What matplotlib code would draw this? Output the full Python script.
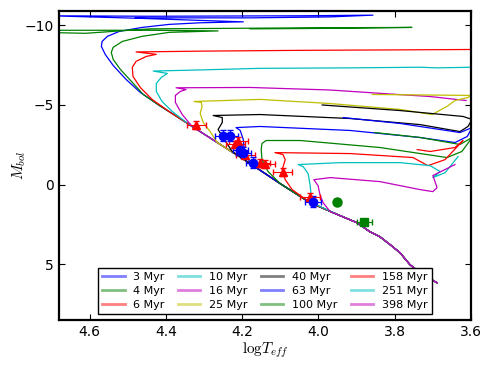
import numpy as np
import matplotlib
matplotlib.use('Agg')
import matplotlib.pyplot as plt

plt.rcParams['mathtext.fontset'] = 'cm'

# shared lower main sequence (logTeff, Mbol)
ms_logt = [3.689, 3.726, 3.760, 3.786, 3.812, 3.839, 3.865, 3.899, 3.943,
           4.022, 4.100, 4.179, 4.265, 4.331]
ms_mbol = [6.16, 5.66, 5.03, 4.28, 3.77, 3.27, 2.96, 2.39, 1.95,
           1.13, -0.06, -1.32, -2.64, -3.65]

ages = ['3 Myr', '4 Myr', '6 Myr', '10 Myr', '16 Myr', '25 Myr', '40 Myr',
        '63 Myr', '100 Myr', '158 Myr', '251 Myr', '398 Myr']
colors = ['b', 'g', 'r', 'c', 'm', 'y', 'k', 'b', 'g', 'r', 'c', 'm']
# where each isochrone leaves the shared main sequence
ms_cut = [4.331, 4.331, 4.331, 4.331, 4.331, 4.265, 4.179, 4.179,
          4.100, 4.022, 3.943, 3.943]

t3 = [4.375, 4.417, 4.467, 4.504, 4.538, 4.559, 4.569, 4.567, 4.553, 4.522,
      4.462, 4.391, 4.310, 4.197, 4.310, 4.467, 4.703, 4.441, 4.048, 3.857,
      3.969, 4.179, 4.480]
m3 = [-4.34, -4.97, -5.79, -6.60, -7.48, -8.18, -8.68, -8.99, -9.31, -9.62,
      -9.87, -10.06, -10.16, -10.22, -10.31, -10.44, -10.60, -10.57, -10.60,
      -10.64, -10.53, -10.47, -10.47]
t4 = [4.417, 4.459, 4.488, 4.519, 4.538, 4.543, 4.538, 4.514, 4.462, 4.391,
      4.263, 4.441, 4.716, 4.729, 4.611, 4.441, 4.048, 3.755, 3.969, 4.179]
m4 = [-4.97, -5.66, -6.42, -7.23, -7.86, -8.30, -8.62, -8.99, -9.31, -9.56,
      -9.65, -9.69, -9.69, -9.56, -9.50, -9.78, -9.84, -9.87, -9.81, -9.78]
t6 = [4.388, 4.436, 4.467, 4.486, 4.488, 4.478, 4.451, 4.425, 4.478, 4.310,
      4.048, 3.786, 3.550]
m6 = [-4.53, -5.35, -6.10, -6.79, -7.36, -7.74, -8.05, -8.18, -8.33, -8.38,
      -8.43, -8.46, -8.49]
t10 = [4.349, 4.383, 4.410, 4.425, 4.425, 4.412, 4.396, 4.433, 4.310, 4.153,
       3.917, 3.734, 3.689, 3.550]
m10 = [-3.96, -4.59, -5.22, -5.85, -6.35, -6.73, -6.98, -7.13, -7.20, -7.30,
       -7.33, -7.37, -7.33, -7.39]
t16 = [4.357, 4.375, 4.375, 4.362, 4.347, 4.373, 4.179, 3.969, 3.831, 3.707,
       3.613]
m16 = [-4.40, -5.16, -5.60, -5.85, -5.97, -6.08, -6.10, -5.94, -5.72, -5.53,
       -5.28]
t25 = [4.284, 4.302, 4.310, 4.305, 4.307, 4.326, 4.153, 3.969, 3.786, 3.702,
       3.663, 3.642, 3.608, 3.600, 3.734, 3.859]
m25 = [-3.33, -3.90, -4.47, -4.91, -5.16, -5.22, -5.35, -5.09, -4.72, -4.40,
       -4.91, -5.28, -5.47, -5.60, -5.63, -5.66]
t40 = [4.226, 4.252, 4.263, 4.252, 4.252, 4.276, 4.153, 3.917, 3.734, 3.629,
       3.608, 3.597, 3.621, 3.786, 3.990]
m40 = [-2.08, -3.02, -3.46, -3.90, -4.21, -4.34, -4.40, -4.15, -3.77, -3.33,
       -3.65, -4.09, -4.28, -4.65, -5.00]
t63 = [4.189, 4.195, 4.197, 4.205, 4.216, 4.153, 3.917, 3.734, 3.642, 3.610,
       3.597, 3.629, 3.786, 3.935]
m63 = [-1.89, -2.33, -2.83, -3.40, -3.58, -3.65, -3.40, -2.96, -2.64, -3.02,
       -3.58, -3.27, -3.84, -4.21]
t100 = [4.132, 4.148, 4.150, 4.148, 4.137, 4.048, 3.839, 3.663, 3.624, 3.597,
        3.629, 3.734, 3.852]
m100 = [-0.82, -1.57, -2.20, -2.58, -2.77, -2.77, -2.33, -1.70, -2.08, -2.96,
        -2.52, -2.96, -3.27]
t158 = [4.069, 4.087, 4.095, 4.087, 4.093, 4.114, 3.917, 3.752, 3.713, 3.668,
        3.621, 3.642, 3.707, 3.741]
m158 = [0.31, -0.31, -0.94, -1.57, -1.89, -2.01, -1.95, -1.70, -1.19, -1.57,
        -2.77, -2.33, -2.08, -2.20]
t251 = [4.001, 4.019, 4.022, 4.027, 4.040, 4.053, 3.943, 3.786, 3.707, 3.681,
        3.700, 3.668, 3.634]
m251 = [1.32, 0.69, 0.00, -0.69, -1.13, -1.26, -1.38, -1.38, -1.19, -0.82,
        -0.44, -0.75, -1.76]
t398 = [3.969, 3.988, 3.996, 4.001, 4.012, 3.969, 3.839, 3.734, 3.700, 3.689,
        3.700, 3.642]
m398 = [1.70, 1.13, 0.63, 0.06, -0.31, -0.44, -0.19, 0.31, 0.44, 0.19,
        -0.57, -1.26]

branch_t = [t3, t4, t6, t10, t16, t25, t40, t63, t100, t158, t251, t398]
branch_m = [m3, m4, m6, m10, m16, m25, m40, m63, m100, m158, m251, m398]

# observed stars
blue_t = [4.250, 4.231, 4.205, 4.197, 4.171, 4.014]
blue_m = [-3.08, -3.08, -2.20, -2.01, -1.38, 1.07]
red_t = [4.320, 4.218, 4.210, 4.192, 4.153, 4.140, 4.093, 4.022]
red_m = [-3.77, -2.52, -2.77, -1.89, -1.38, -1.32, -0.82, 0.75]
circ_t, circ_m = [3.951], [1.07]
sq_t, sq_m = [3.880], [2.33]

fig = plt.figure(figsize=(4.91, 3.68), dpi=100)
ax = fig.add_axes([0.1202, 0.1304, 0.8391, 0.8397])

ms_t = np.array(ms_logt)
ms_m = np.array(ms_mbol)
for i in range(len(ages)):
    keep = ms_t <= ms_cut[i] + 1e-6
    x = np.concatenate([ms_t[keep], branch_t[i]])
    y = np.concatenate([ms_m[keep], branch_m[i]])
    ax.plot(x, y, color=colors[i], lw=0.9, label=ages[i])

ax.errorbar(red_t, red_m, xerr=0.025, yerr=0.25, fmt='^', color='r', mec='r',
            ms=6, ecolor='r', elinewidth=0.8, capsize=2.5, zorder=4)
ax.errorbar(blue_t, blue_m, xerr=0.02, yerr=0.35, fmt='o', color='b', mec='b',
            ms=6, ecolor='b', elinewidth=0.8, capsize=2.5, zorder=4)
ax.plot(circ_t, circ_m, 'o', color='g', mec='g', ms=6.5, zorder=4)
ax.errorbar(sq_t, sq_m, xerr=0.02, fmt='s', color='g', mec='g', ms=5.5,
            ecolor='g', elinewidth=0.8, capsize=2.5, zorder=4)

ax.set_xlim(4.68, 3.6)
ax.set_ylim(8.5, -10.9)
ax.set_xticks([4.6, 4.4, 4.2, 4.0, 3.8, 3.6])
ax.set_yticks([5, 0, -5, -10])
ax.tick_params(direction='in', top=True, right=True, labelsize=10, length=4)
for s in ax.spines.values():
    s.set_linewidth(1.6)
ax.set_xlabel(r'$\mathrm{log}T_{eff}$', fontsize=11, labelpad=1)
ax.set_ylabel(r'$M_{bol}$', fontsize=11, labelpad=-2)

leg = ax.legend(loc='lower center', ncol=4, fontsize=8, fancybox=False,
                handlelength=2.0, columnspacing=1.2, labelspacing=0.35,
                framealpha=1, edgecolor='k')
leg.get_frame().set_linewidth(1.0)
for h in leg.legend_handles:
    h.set_alpha(0.5)
    h.set_linewidth(2)

fig.savefig('out.png', dpi=100)
